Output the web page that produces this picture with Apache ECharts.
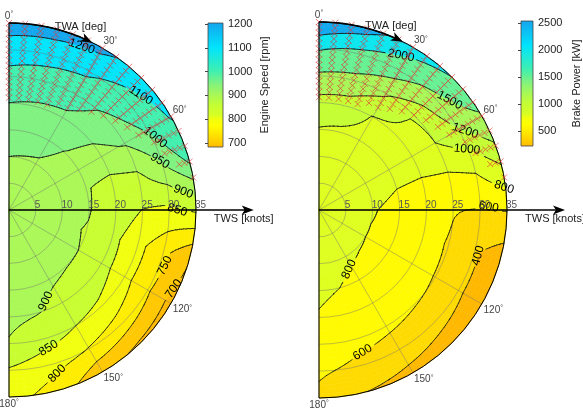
<!DOCTYPE html>
<html><head><meta charset="utf-8">
<script src="https://cdn.jsdelivr.net/npm/echarts@6/dist/echarts.min.js"></script>
<style>html,body{margin:0;padding:0;background:#fff;}#chart{width:583px;height:409px;}</style>
</head><body><div id="chart"></div>
<script>
// ---------------- data ----------------
const twaValues = [0,15,30,45,60,75,90,105,120,135,150,165,180];
const twsValues = [0,5,10,15,20,25,30,35];
// rows: TWA, columns: TWS
const engineSpeed = [
 [925,937,950,975,999,1068,1150,1245],
 [925,936,948,970,990,1050,1140,1240],
 [925,935,946,962,985,1035,1120,1225],
 [925,932,940,948,962,990,1060,1160],
 [925,924,922,925,935,955,1005,1110],
 [925,920,912,903,886,893,940,1005],
 [925,920,912,902,878,849,838,858],
 [925,917,908,898,865,815,765,705],
 [925,916,907,900,870,817,757,682],
 [925,917,908,901,882,838,778,692],
 [925,918,910,904,891,850,797,712],
 [925,921,915,909,902,872,818,780],
 [925,923,919,914,909,897,845,820]
];
const brakePower = [
 [880,905,940,990,1110,1420,2040,2950],
 [880,903,935,975,1090,1380,1850,2700],
 [880,898,925,960,995,1230,1650,2250],
 [880,892,912,935,960,1010,1400,2000],
 [880,885,890,898,920,1000,1190,1450],
 [880,860,830,800,775,780,830,1030],
 [880,850,808,765,720,610,590,610],
 [880,845,800,760,700,580,420,300],
 [880,845,800,760,700,590,430,270],
 [880,848,805,765,710,610,470,300],
 [880,852,815,775,725,635,510,345],
 [880,860,830,800,750,660,560,400],
 [880,865,845,822,790,720,625,560]
];
const speedLevels = [700,750,800,850,900,950,1000,1100,1200];
const powerLevels = [400,600,800,1000,1200,1500,2000,2500];
const speedRange = [683,1204];
const powerRange = [222,2537];
const speedTicks = [700,800,900,1000,1100,1200];
const powerTicks = [500,1000,1500,2000,2500];
const radiusTicks = [5,10,15,20,25,30,35];
// contour labels: [TWS, TWA, level]
const speedLabels = [[33.1,24,1200],[32.6,49,1100],[29.5,63.6,1000],[30.7,72,950],[31.3,84,900],[31.5,90,850],[30.6,109.7,750],[33.4,115.6,700],[19.2,158,900],[27.9,164,850],[32.6,163.6,800]];
const powerLabels = [[33.3,28,2000],[32,50,1500],[30.6,61.6,1200],[30.1,67.7,1000],[32.3,83,800],[31.6,89,600],[29.9,106,400],[13.6,153,800],[27.4,163,600]];
// flagged operating points (red x): for each TWA, first flagged TWS (flags every knot up to 35)
const markerTwa = [0,5,10,15,20,25,30,35,40,45,50,55,60,65,70,75,80];
const markerStartTws = [21,21,21,21,21,22,22,23,24,25,26,27,28,30,31,33,35];

// ---------------- colormap ----------------
const cmapStops = [
 [0.00,[255,184,0]],
 [0.04,[255,204,0]],
 [0.13,[255,238,0]],
 [0.17,[255,252,0]],
 [0.22,[244,255,12]],
 [0.26,[214,255,36]],
 [0.34,[196,254,52]],
 [0.42,[168,248,86]],
 [0.51,[130,242,126]],
 [0.61,[64,240,176]],
 [0.80,[0,228,252]],
 [1.00,[20,165,238]]
];
function cmap(t){
  t = Math.max(0, Math.min(1, t));
  for (let k = 1; k < cmapStops.length; k++) {
    if (t <= cmapStops[k][0]) {
      const t0 = cmapStops[k-1][0], c0 = cmapStops[k-1][1], t1 = cmapStops[k][0], c1 = cmapStops[k][1];
      const u = (t - t0) / (t1 - t0);
      return 'rgb(' + c0.map((c, q) => Math.round(c + (c1[q] - c) * u)).join(',') + ')';
    }
  }
  return 'rgb(' + cmapStops[cmapStops.length-1][1].join(',') + ')';
}

function clip(poly, L, above){
  const out = [];
  for (let k = 0; k < poly.length; k++) {
    const A = poly[k], B = poly[(k+1) % poly.length];
    const ia = above ? A[2] >= L : A[2] <= L;
    const ib = above ? B[2] >= L : B[2] <= L;
    if (ia) out.push(A);
    if (ia !== ib) {
      const t = (L - A[2]) / (B[2] - A[2]);
      out.push([A[0] + t*(B[0]-A[0]), A[1] + t*(B[1]-A[1]), L]);
    }
  }
  return out;
}
const font = 'Liberation Sans, Arial, sans-serif';

function makePlot(grid, levels, range, polarIndex, labels){
  const nR = twsValues.length, nA = twaValues.length;
  const bandOf = v => { let b = 0; while (b < levels.length && v >= levels[b]) b++; return b; };
  const bandColor = b => cmap(((b === 0 ? range[0] : levels[b-1]) - range[0]) / (range[1] - range[0]));
  function cellF(i, j){
    const v00 = grid[j][i], v10 = grid[j][i+1], v01 = grid[j+1][i], v11 = grid[j+1][i+1];
    return (u, w) => (1-u)*(1-w)*v00 + u*(1-w)*v10 + (1-u)*w*v01 + u*w*v11;
  }
  function F(r, a){
    r = Math.max(0, Math.min(35, r)); a = Math.max(0, Math.min(180, a));
    let i = 0; while (i < nR-2 && r > twsValues[i+1]) i++;
    let j = 0; while (j < nA-2 && a > twaValues[j+1]) j++;
    const u = (r - twsValues[i]) / (twsValues[i+1] - twsValues[i]);
    const w = (a - twaValues[j]) / (twaValues[j+1] - twaValues[j]);
    return cellF(i, j)(u, w);
  }
  const NS = 6;
  function quads(i, j){
    const f = cellF(i, j), out = [];
    for (let si = 0; si < NS; si++) for (let sj = 0; sj < NS; sj++) {
      out.push([[si,sj],[si+1,sj],[si+1,sj+1],[si,sj+1]].map(([p, q]) => {
        const u = p / NS, w = q / NS;
        return [twsValues[i] + u*(twsValues[i+1]-twsValues[i]), twaValues[j] + w*(twaValues[j+1]-twaValues[j]), f(u, w)];
      }));
    }
    return out;
  }
  // snap each label onto its contour (radial search)
  const snapped = labels.map(([r, a, L]) => {
    let best = null;
    for (let d = -5; d <= 5; d += 0.05) {
      const r1 = r + d, r2 = r + d + 0.05;
      if (r1 < 0 || r2 > 35) continue;
      const f1 = F(r1, a) - L, f2 = F(r2, a) - L;
      if ((f1 < 0) !== (f2 < 0)) { const rr = r1 + 0.05 * f1 / (f1 - f2); if (best === null || Math.abs(rr - r) < Math.abs(best - r)) best = rr; }
    }
    return [best === null ? r : best, a, L];
  });
  function labelGeom(api, s){
    const [r, a, L] = s;
    const p = api.coord([r, a]);
    const pr = api.coord([r + 0.1, a]), pa = api.coord([r, a + 0.2]);
    const Fr = (F(r + 0.05, a) - F(r - 0.05, a)) / 0.1;
    const Fa = (F(r, a + 0.1) - F(r, a - 0.1)) / 0.2;
    const dr = -Fa, da = Fr;
    const tx = (pr[0]-p[0]) / 0.1 * dr + (pa[0]-p[0]) / 0.2 * da;
    const ty = (pr[1]-p[1]) / 0.1 * dr + (pa[1]-p[1]) / 0.2 * da;
    let th = Math.atan2(ty, tx);
    if (th > Math.PI/2) th -= Math.PI; if (th < -Math.PI/2) th += Math.PI;
    const w = String(L).length * 6.7 + 4, h = 12;
    return {x:p[0], y:p[1], th, w, h, L};
  }
  const data = [];
  for (let j = 0; j < nA; j++) for (let i = 0; i < nR; i++) data.push([twsValues[i], twaValues[j], grid[j][i]]);

  const fill = {
    type: 'custom', coordinateSystem: 'polar', polarIndex, z: -1, silent: true, data,
    renderItem(params, api){
      const idx = params.dataIndex, i = idx % nR, j = Math.floor(idx / nR);
      if (i >= nR-1 || j >= nA-1) return null;
      const children = [];
      const px = p => api.coord([p[0], p[1]]);
      const add = (poly, c) => children.push({type:'polygon', shape:{points: poly.map(px)}, style:{fill:c, stroke:c, lineWidth:0.6}});
      for (const q of quads(i, j)) {
        const bs = q.map(p => bandOf(p[2]));
        const bmin = Math.min(...bs), bmax = Math.max(...bs);
        if (bmin === bmax) { add(q, bandColor(bmin)); continue; }
        for (const tri of [[q[0],q[1],q[2]],[q[0],q[2],q[3]]]) {
          for (let b = bmin; b <= bmax; b++) {
            let poly = tri;
            if (b > 0) poly = clip(poly, levels[b-1], true);
            if (poly.length >= 3 && b < levels.length) poly = clip(poly, levels[b], false);
            if (poly.length >= 3) add(poly, bandColor(b));
          }
        }
      }
      return {type:'group', children};
    }
  };
  const lines = {
    type: 'custom', coordinateSystem: 'polar', polarIndex, z: 3, silent: true, data,
    renderItem(params, api){
      const idx = params.dataIndex, i = idx % nR, j = Math.floor(idx / nR);
      if (i >= nR-1 || j >= nA-1) return null;
      const boxes = snapped.map(s => labelGeom(api, s));
      const hidden = (x, y) => boxes.some(b => {
        const dx = x - b.x, dy = y - b.y;
        const u = dx*Math.cos(b.th) + dy*Math.sin(b.th), v = -dx*Math.sin(b.th) + dy*Math.cos(b.th);
        return Math.abs(u) < b.w/2 + 1 && Math.abs(v) < b.h/2 + 1;
      });
      const children = [];
      for (const q of quads(i, j)) {
        for (const tri of [[q[0],q[1],q[2]],[q[0],q[2],q[3]]]) {
          for (const L of levels) {
            const pts = [];
            for (let e = 0; e < 3; e++) {
              const A = tri[e], B = tri[(e+1)%3];
              if ((A[2] < L) !== (B[2] < L)) {
                const t = (L - A[2]) / (B[2] - A[2]);
                pts.push(api.coord([A[0] + t*(B[0]-A[0]), A[1] + t*(B[1]-A[1])]));
              }
            }
            if (pts.length === 2 && !hidden((pts[0][0]+pts[1][0])/2, (pts[0][1]+pts[1][1])/2))
              children.push({type:'line', shape:{x1:pts[0][0], y1:pts[0][1], x2:pts[1][0], y2:pts[1][1]}, style:{stroke:'#111', lineWidth:0.8, lineCap:'round'}});
          }
        }
      }
      return {type:'group', children};
    }
  };
  const labelSeries = {
    type: 'custom', coordinateSystem: 'polar', polarIndex, z: 5, silent: true, data: labels,
    renderItem(params, api){
      const g = labelGeom(api, snapped[params.dataIndex]);
      return {type:'text', x: g.x, y: g.y, rotation: -g.th,
        style:{text: String(g.L), fontSize: 12, fontFamily: font, fill:'#000', align:'center', verticalAlign:'middle'}};
    }
  };
  return [fill, lines, labelSeries];
}

function markerSeries(polarIndex){
  const data = [];
  markerTwa.forEach((a, k) => { for (let s = markerStartTws[k]; s <= 35; s++) data.push([s, a]); });
  return {
    type:'custom', coordinateSystem:'polar', polarIndex, z:6, silent:true, data,
    renderItem(params, api){
      const p = api.coord([api.value(0), api.value(1)]), h = 3;
      const st = {stroke:'rgba(225,50,50,0.8)', lineWidth:0.8};
      return {type:'group', children:[
        {type:'line', shape:{x1:p[0]-h, y1:p[1]-h, x2:p[0]+h, y2:p[1]+h}, style:st},
        {type:'line', shape:{x1:p[0]-h, y1:p[1]+h, x2:p[0]+h, y2:p[1]-h}, style:st}
      ]};
    }
  };
}

function radiusLabelSeries(polarIndex){
  return {
    type:'custom', coordinateSystem:'polar', polarIndex, z:7, silent:true, data: radiusTicks.map(r => [r, 90]),
    renderItem(params, api){
      const p = api.coord([api.value(0), api.value(1)]);
      return {type:'text', x:p[0]-1, y:p[1]-5, style:{text:String(api.value(0)), fontSize:10, fontFamily:font, fill:'#555', align:'left', verticalAlign:'middle'}};
    }
  };
}

function annotationSeries(polarIndex){
  return {
    type:'custom', coordinateSystem:'polar', polarIndex, z:8, silent:true, data:[[0,0]],
    renderItem(params, api){
      const c = api.coord([0, 0]);
      const top = api.coord([35, 0]), bot = api.coord([35, 180]);
      const children = [];
      children.push({type:'line', shape:{x1:top[0], y1:top[1], x2:bot[0], y2:bot[1]}, style:{stroke:'#000', lineWidth:1}});
      // TWS arrow
      const tip = api.coord([45.8, 90]);
      children.push({type:'line', shape:{x1:c[0], y1:c[1], x2:tip[0]-8, y2:tip[1]}, style:{stroke:'#000', lineWidth:1.3}});
      children.push({type:'polygon', shape:{points:[[tip[0], tip[1]], [tip[0]-12, tip[1]-4.5], [tip[0]-9, tip[1]], [tip[0]-12, tip[1]+4.5]]}, style:{fill:'#000'}});
      children.push({type:'text', x:tip[0]-10, y:tip[1]+9, style:{text:'TWS [knots]', fontSize:11, fontFamily:font, fill:'#222', align:'center', verticalAlign:'middle'}});
      // TWA arrow along the rim
      const arc = [];
      for (let a = 0; a <= 24; a += 1) arc.push(api.coord([35, a]));
      children.push({type:'polyline', shape:{points:arc}, style:{stroke:'#000', lineWidth:1.6, fill:null}});
      const th = 26.5 * Math.PI / 180;
      const at = api.coord([35, 26.5]);
      const dx = Math.cos(th), dy = Math.sin(th), nx = -dy, ny = dx;
      children.push({type:'polygon', shape:{points:[[at[0], at[1]], [at[0]-12*dx+4.5*nx, at[1]-12*dy+4.5*ny], [at[0]-9*dx, at[1]-9*dy], [at[0]-12*dx-4.5*nx, at[1]-12*dy-4.5*ny]]}, style:{fill:'#000'}});
      children.push({type:'text', x:at[0]-12, y:at[1]-16, style:{text:'TWA [deg]', fontSize:11, fontFamily:font, fill:'#222', align:'center', verticalAlign:'middle'}});
      return {type:'group', children};
    }
  };
}

function colorbarSeries(gridIndex, range){
  return {
    type:'custom', coordinateSystem:'cartesian2d', xAxisIndex:gridIndex, yAxisIndex:gridIndex, z:2, silent:true,
    data:[[0, range[0], 1, range[1]]],
    renderItem(params, api){
      const p0 = api.coord([api.value(0), api.value(3)]), p1 = api.coord([api.value(2), api.value(1)]);
      const stops = cmapStops.map(s => ({offset: s[0], color: 'rgb(' + s[1].join(',') + ')'}));
      return {type:'rect', shape:{x:p0[0], y:p0[1], width:p1[0]-p0[0], height:p1[1]-p0[1]},
        style:{fill: new echarts.graphic.LinearGradient(0, 1, 0, 0, stops), stroke:'#444', lineWidth:0.8}};
    }
  };
}

function angleAxisCfg(polarIndex){
  return {
    polarIndex, type:'value', min:0, max:180, interval:30, startAngle:90, endAngle:-90, clockwise:true,
    axisLine:{show:true, lineStyle:{color:'#000', width:1}},
    axisTick:{show:false},
    splitLine:{show:true, lineStyle:{color:'rgba(110,110,110,0.55)', width:0.8}},
    axisLabel:{show:true, margin:2, fontSize:10, fontFamily:font, color:'#444',
      formatter: v => v === 90 ? '' : v + '{d|°}',
      rich:{d:{fontSize:7, color:'#444', verticalAlign:'top', padding:[0,0,3,0]}}}
  };
}
function radiusAxisCfg(polarIndex){
  return {
    polarIndex, type:'value', min:0, max:35, interval:5,
    axisLine:{show:false}, axisTick:{show:false}, axisLabel:{show:false},
    splitLine:{show:true, lineStyle:{color:'rgba(110,110,110,0.55)', width:0.8}}
  };
}
function yAxisCfg(gridIndex, range, ticks, name, gap){
  return {
    gridIndex, type:'value', min:range[0], max:range[1], position:'right',
    axisLine:{show:false}, splitLine:{show:false},
    axisTick:{show:true, inside:true, length:3, customValues:ticks, lineStyle:{color:'#444'}},
    axisLabel:{show:true, customValues:ticks, fontSize:11, fontFamily:font, color:'#222', margin:5, formatter: v => String(v)},
    name, nameLocation:'middle', nameRotate:90, nameGap:gap, nameMoveOverlap:false,
    nameTextStyle:{fontSize:11, fontFamily:font, color:'#222'}
  };
}

const chart = echarts.init(document.getElementById('chart'), null, {renderer:'canvas'});
chart.setOption({
  animation:false,
  backgroundColor:'#fff',
  polar:[{center:[9,210], radius:187},{center:[319,210], radius:188}],
  angleAxis:[angleAxisCfg(0), angleAxisCfg(1)],
  radiusAxis:[radiusAxisCfg(0), radiusAxisCfg(1)],
  grid:[{left:208, top:23, width:15, height:124},{left:521, top:21, width:13, height:125}],
  xAxis:[{gridIndex:0, type:'value', min:0, max:1, show:false},{gridIndex:1, type:'value', min:0, max:1, show:false}],
  yAxis:[yAxisCfg(0, speedRange, speedTicks, 'Engine Speed [rpm]', 36), yAxisCfg(1, powerRange, powerTicks, 'Brake Power [kW]', 38)],
  series:[
    ...makePlot(engineSpeed, speedLevels, speedRange, 0, speedLabels),
    ...makePlot(brakePower, powerLevels, powerRange, 1, powerLabels),
    markerSeries(0), markerSeries(1),
    radiusLabelSeries(0), radiusLabelSeries(1),
    annotationSeries(0), annotationSeries(1),
    colorbarSeries(0, speedRange), colorbarSeries(1, powerRange)
  ]
});
</script></body></html>
